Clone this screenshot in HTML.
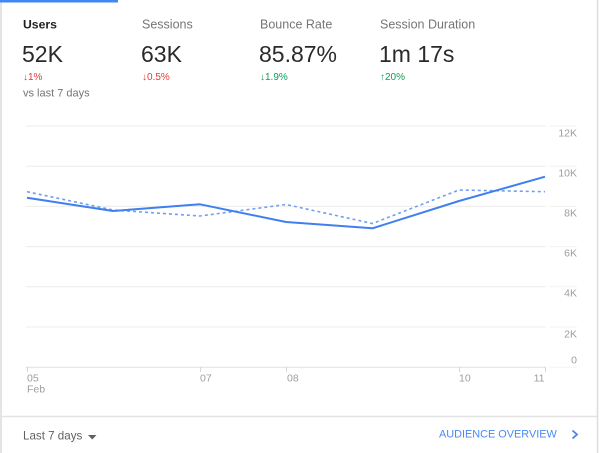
<!DOCTYPE html>
<html>
<head>
<meta charset="utf-8">
<style>
html,body{margin:0;padding:0;background:#fff;}
body{width:600px;height:453px;overflow:hidden;}
svg{display:block;font-family:"Liberation Sans",Arial,sans-serif;}
</style>
</head>
<body>
<svg width="600" height="453" viewBox="0 0 600 453" xmlns="http://www.w3.org/2000/svg">
  <rect x="0" y="0" width="600" height="453" fill="#fff"/>
  <!-- borders -->
  <line x1="1" y1="2" x2="1" y2="453" stroke="#dcdcdc" stroke-width="1.5"/>
  <line x1="597.5" y1="0" x2="597.5" y2="453" stroke="#dcdcdc" stroke-width="1.5"/>
  <rect x="0" y="0" width="118" height="2.5" fill="#4285f4"/>
  <line x1="0" y1="416.5" x2="597" y2="416.5" stroke="#e3e3e3" stroke-width="1.5"/>

  <!-- header metrics -->
  <text x="23" y="28.5" font-size="12.2" font-weight="bold" fill="#212121">Users</text>
  <text x="142" y="28.5" font-size="12.5" fill="#757575">Sessions</text>
  <text x="260" y="28.5" font-size="12.5" fill="#757575">Bounce Rate</text>
  <text x="380" y="28.5" font-size="12.5" fill="#757575">Session Duration</text>

  <text x="22" y="62" font-size="23" fill="#2a2a2a">52K</text>
  <text x="141" y="62" font-size="23" fill="#2a2a2a">63K</text>
  <text x="259" y="62" font-size="23" fill="#2a2a2a">85.87%</text>
  <text x="379" y="62" font-size="23" fill="#2a2a2a">1m 17s</text>

  <text x="23" y="80" font-size="10" fill="#e53935">↓1%</text>
  <text x="142" y="80" font-size="10" fill="#e53935">↓0.5%</text>
  <text x="260" y="80" font-size="10" fill="#0f9d58">↓1.9%</text>
  <text x="380" y="80" font-size="10" fill="#0f9d58">↑20%</text>

  <text x="23" y="96.5" font-size="11" fill="#757575">vs last 7 days</text>

  <!-- gridlines -->
  <g stroke="#ececec" stroke-width="1">
    <line x1="26" y1="126" x2="546" y2="126"/>
    <line x1="26" y1="166.2" x2="546" y2="166.2"/>
    <line x1="26" y1="206.4" x2="546" y2="206.4"/>
    <line x1="26" y1="246.6" x2="546" y2="246.6"/>
    <line x1="26" y1="286.8" x2="546" y2="286.8"/>
    <line x1="26" y1="327" x2="546" y2="327"/>
  </g>
  <g stroke="#f3f3f3" stroke-width="1">
    <line x1="549" y1="126" x2="577" y2="126"/>
    <line x1="549" y1="166.2" x2="577" y2="166.2"/>
    <line x1="549" y1="206.4" x2="577" y2="206.4"/>
    <line x1="549" y1="246.6" x2="577" y2="246.6"/>
    <line x1="549" y1="286.8" x2="577" y2="286.8"/>
    <line x1="549" y1="327" x2="577" y2="327"/>
    <line x1="549" y1="367.3" x2="577" y2="367.3"/>
  </g>
  <line x1="26" y1="367.3" x2="546" y2="367.3" stroke="#e0e0e0" stroke-width="1"/>
  <!-- ticks -->
  <g stroke="#d6d6d6" stroke-width="1">
    <line x1="27.5" y1="367" x2="27.5" y2="372"/>
    <line x1="200.5" y1="367" x2="200.5" y2="372"/>
    <line x1="286.5" y1="367" x2="286.5" y2="372"/>
    <line x1="459.5" y1="367" x2="459.5" y2="372"/>
    <line x1="545.5" y1="367" x2="545.5" y2="372"/>
  </g>

  <!-- y labels -->
  <g font-size="10.5" fill="#9e9e9e" text-anchor="end">
    <text x="577" y="136.7">12K</text>
    <text x="577" y="176.7">10K</text>
    <text x="577" y="216.7">8K</text>
    <text x="577" y="256.7">6K</text>
    <text x="577" y="296.7">4K</text>
    <text x="577" y="337.5">2K</text>
    <text x="577" y="363.3">0</text>
  </g>
  <!-- x labels -->
  <g font-size="10.5" fill="#9e9e9e">
    <text x="27" y="381.7">05</text>
    <text x="27" y="392.5">Feb</text>
    <text x="200" y="381.7">07</text>
    <text x="287" y="381.7">08</text>
    <text x="459" y="381.7">10</text>
    <text x="544.5" y="381.7" text-anchor="end">11</text>
  </g>

  <!-- series -->
  <polyline fill="none" stroke="#6f9ff0" stroke-width="1.6" stroke-dasharray="3,3"
    points="27,191.7 113,210 200,216 286,204.5 372.5,223.5 459,190 545,191.7"/>
  <polyline fill="none" stroke="#3f7ff0" stroke-width="2" stroke-linejoin="round"
    points="27,197.7 113,211 200,204.3 286,222 372.5,228.3 459,201 545,176.7"/>

  <!-- footer -->
  <text x="23" y="439.5" font-size="11.6" fill="#616161">Last 7 days</text>
  <polygon points="88,435 96.5,435 92.25,439.5" fill="#616161"/>
  <text x="439" y="437.6" font-size="10.9" fill="#4a8af4">AUDIENCE OVERVIEW</text>
  <polyline points="572.5,430.5 577,434.5 572.5,438.5" fill="none" stroke="#4285f4" stroke-width="1.8"/>
</svg>
</body>
</html>
